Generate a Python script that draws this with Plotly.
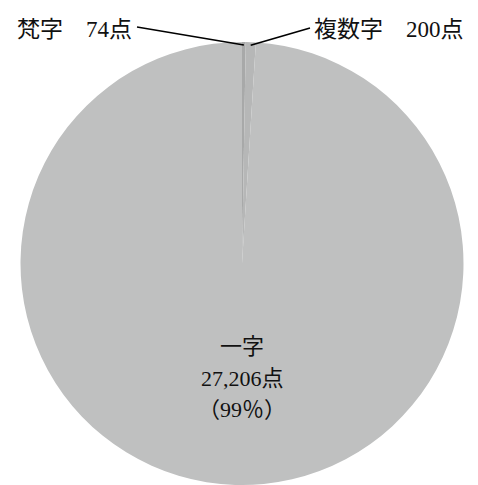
import math
import plotly.graph_objects as go

labels = ["梵字", "複数字", "一字"]
values = [74, 200, 27206]
colors = ["#a8a9a9", "#b6b7b7", "#bfc0c0"]

W, H = 478, 485
cx_px, cy_px, r_px = 242, 264, 222

dom_x = [(cx_px - r_px) / W, (cx_px + r_px) / W]
dom_y = [max(0, (H - cy_px - r_px) / H), (H - cy_px + r_px) / H]

fig = go.Figure(go.Pie(
    labels=labels, values=values, sort=False, direction="clockwise", rotation=0,
    marker=dict(colors=colors, line=dict(width=0)),
    textinfo="none", hoverinfo="label+value", showlegend=False,
    domain=dict(x=dom_x, y=dom_y),
))

font_family = "Liberation Serif, DejaVu Serif, Noto Sans CJK JP"
FS = 23
total = sum(values)


def px_to_paper(x, y):
    return x / W, 1 - y / H


cum = 0
mids = []
for v in values:
    mids.append((cum + v / 2) / total * 2 * math.pi)
    cum += v

shapes = []
annotations = []
label_pos = {0: (137, 27, "right"), 1: (310, 28, "left")}
for i, (lx, ly, anchor) in label_pos.items():
    a = mids[i]
    tx = cx_px + (r_px - 3) * math.sin(a)
    ty = cy_px - (r_px - 3) * math.cos(a)
    x0, y0 = px_to_paper(lx, ly)
    x1, y1 = px_to_paper(tx, ty)
    shapes.append(dict(type="line", xref="paper", yref="paper", x0=x0, y0=y0, x1=x1, y1=y1,
                       line=dict(color="black", width=1.5)))
    tx0 = lx - 3 if anchor == "right" else lx + 2
    ax, ay = px_to_paper(tx0, 29)
    annotations.append(dict(text=f"{labels[i]}　{values[i]:,}点", x=ax, y=ay, xref="paper", yref="paper",
                            xanchor=anchor, yanchor="middle", showarrow=False,
                            font=dict(family=font_family, size=FS, color="#111")))

pct = round(values[2] / total * 100)
center_lines = [labels[2], f"{values[2]:,}点", f"（{pct}％）"]
for txt, py in zip(center_lines, [346, 378, 409]):
    mx, my = px_to_paper(242, py)
    annotations.append(dict(text=txt, x=mx, y=my, xref="paper", yref="paper",
                            xanchor="center", yanchor="middle", showarrow=False,
                            font=dict(family=font_family, size=FS - 1, color="#111")))

fig.update_layout(width=W, height=H, margin=dict(l=0, r=0, t=0, b=0),
                  paper_bgcolor="white", plot_bgcolor="white",
                  shapes=shapes, annotations=annotations)

fig.write_html("out.html", config={"displayModeBar": False},
               post_script="document.body.style.margin='0';document.body.style.overflow='hidden';")
